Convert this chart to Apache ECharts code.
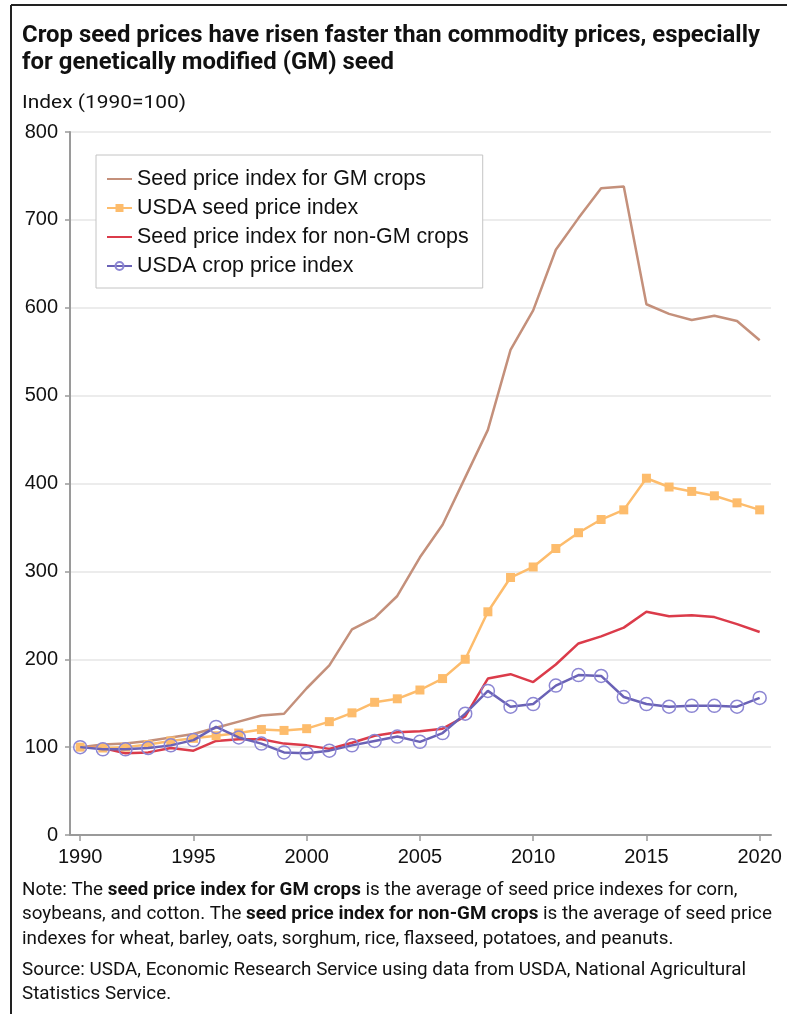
<!DOCTYPE html>
<html>
<head>
<meta charset="utf-8">
<script src="https://cdn.jsdelivr.net/npm/echarts@6/dist/echarts.min.js"></script>
<style>
  html, body { margin: 0; padding: 0; background: #ffffff; }
  #chart { width: 787px; height: 1014px; }
</style>
</head>
<body>
<div id="chart"></div>
<script>
// Years on the horizontal axis
const years = [1990, 1991, 1992, 1993, 1994, 1995, 1996, 1997, 1998, 1999,
               2000, 2001, 2002, 2003, 2004, 2005, 2006, 2007, 2008, 2009,
               2010, 2011, 2012, 2013, 2014, 2015, 2016, 2017, 2018, 2019, 2020];

// Index values, 1990 = 100
const gmSeed = [100, 103, 104, 107, 111, 115, 122, 129, 136, 138,
                167, 193, 234, 247, 272, 316, 353, 407, 461, 552,
                597, 666, 702, 736, 738, 604, 593, 586, 591, 585, 563];
const usdaSeed = [100, 99, 100, 103, 107, 110, 113, 116, 120, 119,
                  121, 129, 139, 151, 155, 165, 178, 200, 254, 293,
                  305, 326, 344, 359, 370, 406, 396, 391, 386, 378, 370];
const nonGmSeed = [100, 99, 93, 94, 99, 96, 107, 109, 109, 104,
                   102, 98, 105, 113, 117, 118, 121, 135, 178, 183,
                   174, 194, 218, 226, 236, 254, 249, 250, 248, 240, 231];
const usdaCrop = [100, 97.5, 97.5, 99, 102, 108, 123, 111, 104, 94,
                  93, 96, 102, 107, 112, 106, 116, 138, 164, 146,
                  149, 170, 182, 181, 157, 149, 146, 147, 147, 146, 156];

// Tick labels
const xTicks = [1990, 1995, 2000, 2005, 2010, 2015, 2020];

const seriesNames = [
  'Seed price index for GM crops',
  'USDA seed price index',
  'Seed price index for non-GM crops',
  'USDA crop price index'
];

const titleLines = [
  'Crop seed prices have risen faster than commodity prices, especially',
  'for genetically modified (GM) seed'
];
const yAxisTitle = 'Index (1990=100)';
const noteLines = [
  '{n|Note: The }{b|seed price index for GM crops}{n| is the average of seed price indexes for corn,}',
  '{n|soybeans, and cotton. The }{b|seed price index for non-GM crops}{n| is the average of seed price}',
  '{n|indexes for wheat, barley, oats, sorghum, rice, flaxseed, potatoes, and peanuts.}'
];
const sourceLines = [
  'Source: USDA, Economic Research Service using data from USDA, National Agricultural',
  'Statistics Service.'
];

const pairs = arr => years.map((y, i) => [y, arr[i]]);

// Horizontal squeeze so the text reads like a condensed face
const measure = (text, font) => {
  const ctx = document.createElement('canvas').getContext('2d');
  ctx.font = font;
  return ctx.measureText(text).width;
};
const TITLE_FONT = 'bold 24px Roboto';
const NOTE_FONT = '18px Roboto';
const AXIS_TITLE_FONT = '19px Roboto';
const titleScale = 738 / measure(titleLines[0], TITLE_FONT);
const noteScale = 724 / measure(sourceLines[0], NOTE_FONT);
const axisTitleScale = 164 / measure(yAxisTitle, AXIS_TITLE_FONT);

const textEl = (content, x, y, font, scale, extra) => ({
  type: 'text',
  x: x, y: y,
  scaleX: scale,
  style: Object.assign({
    text: content,
    font: font,
    fill: '#111111',
    align: 'left',
    verticalAlign: 'middle'
  }, extra || {})
});

const richNote = {
  n: { fontFamily: 'Roboto', fontSize: 18, fontWeight: 'normal', fill: '#111111' },
  b: { fontFamily: 'Roboto', fontSize: 18, fontWeight: 'bold', fill: '#111111' }
};

// plain line swatch for the series drawn without markers
const plainLegendItem = name => ({ name: name, itemStyle: { color: 'rgba(0,0,0,0)', borderWidth: 0, opacity: 0 } });

const chart = echarts.init(document.getElementById('chart'), null, { renderer: 'canvas' });

chart.setOption({
  backgroundColor: '#ffffff',
  animation: false,
  grid: { left: 70, right: 16, top: 132, bottom: 179, containLabel: false },
  legend: {
    orient: 'vertical',
    left: 96,
    top: 155,
    data: [
      plainLegendItem(seriesNames[0]),
      seriesNames[1],
      plainLegendItem(seriesNames[2]),
      seriesNames[3]
    ],
    backgroundColor: '#ffffff',
    borderColor: '#c4c4c4',
    borderWidth: 1,
    padding: [12, 14, 10, 10],
    itemWidth: 25,
    itemHeight: 10,
    itemGap: 5,
    textStyle: { fontFamily: 'Liberation Sans', fontSize: 21.4, color: '#111111', lineHeight: 24 }
  },
  xAxis: {
    type: 'value',
    min: 1989.55,
    max: 2020.5,
    axisLine: { show: true, lineStyle: { color: '#9a9a9a', width: 2 } },
    axisTick: { show: true, length: 6, customValues: xTicks, lineStyle: { color: '#9a9a9a', width: 1.5 } },
    axisLabel: {
      customValues: xTicks,
      formatter: v => String(v),
      margin: 12,
      fontFamily: 'Liberation Sans', fontSize: 20, color: '#111111'
    },
    splitLine: { show: false }
  },
  yAxis: {
    type: 'value',
    min: 0,
    max: 800,
    interval: 100,
    axisLine: { show: true, lineStyle: { color: '#9a9a9a', width: 2 } },
    axisTick: { show: true, length: 5, lineStyle: { color: '#9a9a9a', width: 1.5 } },
    axisLabel: { margin: 12, fontFamily: 'Liberation Sans', fontSize: 20, color: '#111111' },
    splitLine: { show: true, lineStyle: { color: '#e6e6e6', width: 1.5 } }
  },
  series: [
    {
      name: seriesNames[0],
      type: 'line',
      data: pairs(gmSeed),
      symbol: 'none',
      z: 2,
      lineStyle: { color: '#c4907b', width: 2.5 },
      itemStyle: { color: '#c4907b' }
    },
    {
      name: seriesNames[2],
      type: 'line',
      data: pairs(nonGmSeed),
      symbol: 'none',
      z: 3,
      lineStyle: { color: '#db3b4a', width: 2.5 },
      itemStyle: { color: '#db3b4a' }
    },
    {
      name: seriesNames[1],
      type: 'line',
      data: pairs(usdaSeed),
      symbol: 'rect',
      symbolSize: 9,
      z: 4,
      lineStyle: { color: '#fdbc6c', width: 2.5 },
      itemStyle: { color: '#fdbc6c' }
    },
    {
      name: seriesNames[3],
      type: 'line',
      data: pairs(usdaCrop),
      symbol: 'circle',
      symbolSize: 13,
      z: 5,
      lineStyle: { color: '#6a62b6', width: 2.5 },
      itemStyle: { color: 'rgba(255,255,255,0)', borderColor: '#8c86d3', borderWidth: 1.5 }
    }
  ],
  graphic: [
    // frame edges
    { type: 'line', shape: { x1: 11, y1: 5, x2: 787, y2: 5 }, style: { stroke: '#222222', lineWidth: 2 } },
    { type: 'line', shape: { x1: 11, y1: 5, x2: 11, y2: 1014 }, style: { stroke: '#222222', lineWidth: 2 } },
    textEl(titleLines[0], 22, 36, TITLE_FONT, titleScale),
    textEl(titleLines[1], 22, 63, TITLE_FONT, titleScale),
    textEl(yAxisTitle, 22, 103, AXIS_TITLE_FONT, axisTitleScale),
    textEl(noteLines[0], 22, 890, NOTE_FONT, noteScale, { rich: richNote }),
    textEl(noteLines[1], 22, 914, NOTE_FONT, noteScale, { rich: richNote }),
    textEl(noteLines[2], 22, 939, NOTE_FONT, noteScale, { rich: richNote }),
    textEl(sourceLines[0], 22, 970, NOTE_FONT, noteScale),
    textEl(sourceLines[1], 22, 994, NOTE_FONT, noteScale)
  ]
});
</script>
</body>
</html>
